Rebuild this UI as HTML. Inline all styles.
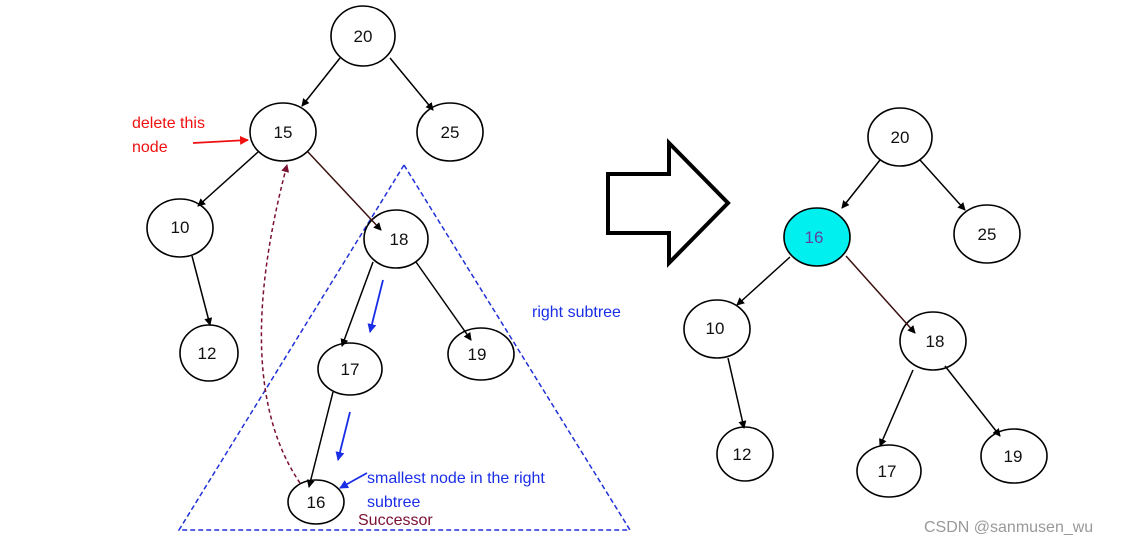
<!DOCTYPE html>
<html><head><meta charset="utf-8"><style>
html,body{margin:0;padding:0;background:#fff;}
svg{display:block;font-family:"Liberation Sans",sans-serif;}
</style></head><body>
<svg width="1134" height="544" viewBox="0 0 1134 544" xmlns="http://www.w3.org/2000/svg">
<defs>
<marker id="a" markerWidth="8" markerHeight="8" refX="7" refY="4" orient="auto" markerUnits="userSpaceOnUse"><path d="M0,0 L8,4 L0,8 z" fill="#000"/></marker>
<marker id="b" markerWidth="9" markerHeight="9" refX="8" refY="4.5" orient="auto" markerUnits="userSpaceOnUse"><path d="M0,0 L9,4.5 L0,9 z" fill="#1a2ee8"/></marker>
<marker id="r" markerWidth="9" markerHeight="9" refX="8" refY="4.5" orient="auto" markerUnits="userSpaceOnUse"><path d="M0,0 L9,4.5 L0,9 z" fill="#f01010"/></marker>
<marker id="m" markerWidth="8" markerHeight="8" refX="7" refY="4" orient="auto" markerUnits="userSpaceOnUse"><path d="M0,0 L8,4 L0,8 z" fill="#7a1030"/></marker>
</defs>
<rect width="1134" height="544" fill="#fff"/>
<polygon points="404,165 179,530 630,530" fill="none" stroke="#2030d8" stroke-width="1.5" stroke-dasharray="5,3"/>
<!-- left nodes -->
<g fill="#fff" stroke="#000" stroke-width="1.6">
<ellipse cx="363" cy="36" rx="32" ry="30"/>
<ellipse cx="283" cy="132" rx="33" ry="29"/>
<ellipse cx="450" cy="132" rx="33" ry="29"/>
<ellipse cx="180" cy="228" rx="33" ry="29"/>
<ellipse cx="396" cy="239" rx="32" ry="29"/>
<ellipse cx="209" cy="353" rx="29" ry="28"/>
<ellipse cx="350" cy="369" rx="32" ry="26"/>
<ellipse cx="481" cy="354" rx="33" ry="26"/>
<ellipse cx="316" cy="502" rx="28" ry="22"/>
</g>
<g stroke="#000" stroke-width="1.5" fill="none" marker-end="url(#a)">
<line x1="340" y1="58" x2="302" y2="106"/>
<line x1="390" y1="58" x2="433" y2="110"/>
<line x1="258" y1="152" x2="198" y2="206"/>
<line x1="308" y1="152" x2="381" y2="230" stroke="#3a1010"/>
<line x1="192" y1="256" x2="210" y2="325"/>
<line x1="373" y1="262" x2="342" y2="346"/>
<line x1="416" y1="262" x2="471" y2="340"/>
<line x1="333" y1="392" x2="309" y2="487"/>
</g>
<path d="M300,483 Q230,380 287,165" stroke="#7a1030" stroke-width="1.5" fill="none" stroke-dasharray="4,3" marker-end="url(#m)"/>
<g stroke="#1a2ee8" stroke-width="1.8" fill="none" marker-end="url(#b)">
<line x1="383" y1="280" x2="370" y2="332"/>
<line x1="350" y1="412" x2="338" y2="460"/>
<line x1="367" y1="473" x2="340" y2="488"/>
</g>
<line x1="193" y1="143" x2="248" y2="140" stroke="#f01010" stroke-width="1.8" marker-end="url(#r)"/>
<g font-size="17" fill="#111" text-anchor="middle">
<text x="363" y="42">20</text><text x="283" y="138">15</text><text x="450" y="138">25</text>
<text x="180" y="233">10</text><text x="399" y="245">18</text><text x="207" y="359">12</text>
<text x="350" y="375">17</text><text x="477" y="360">19</text><text x="316" y="508">16</text>
</g>
<g font-size="16">
<text x="132" y="128" fill="#f01010">delete this</text>
<text x="132" y="152" fill="#f01010">node</text>
<text x="532" y="317" fill="#1a2ee8">right subtree</text>
<text x="367" y="483" fill="#1a2ee8">smallest node in the right</text>
<text x="367" y="507" fill="#1a2ee8">subtree</text>
<text x="358" y="525" fill="#7a1030">Successor</text>
</g>
<polygon points="608,174 669,174 669,143 728,203 669,263 669,233 608,233" fill="#fff" stroke="#000" stroke-width="4" stroke-linejoin="miter"/>
<!-- right nodes -->
<g fill="#fff" stroke="#000" stroke-width="1.6">
<ellipse cx="900" cy="137" rx="32" ry="29"/>
<ellipse cx="817" cy="237" rx="33" ry="29" fill="#00f0f0"/>
<ellipse cx="987" cy="234" rx="33" ry="29"/>
<ellipse cx="717" cy="329" rx="33" ry="29"/>
<ellipse cx="933" cy="341" rx="33" ry="29"/>
<ellipse cx="745" cy="454" rx="28" ry="27"/>
<ellipse cx="889" cy="471" rx="32" ry="26"/>
<ellipse cx="1014" cy="456" rx="33" ry="27"/>
</g>
<g stroke="#000" stroke-width="1.5" fill="none" marker-end="url(#a)">
<line x1="880" y1="160" x2="842" y2="208"/>
<line x1="920" y1="160" x2="965" y2="210"/>
<line x1="790" y1="257" x2="737" y2="305"/>
<line x1="846" y1="256" x2="915" y2="333" stroke="#3a1010"/>
<line x1="728" y1="358" x2="744" y2="428"/>
<line x1="913" y1="370" x2="880" y2="446"/>
<line x1="945" y1="366" x2="1000" y2="436"/>
</g>
<g font-size="17" fill="#111" text-anchor="middle">
<text x="900" y="143">20</text><text x="814" y="243" fill="#6040a0">16</text><text x="987" y="240">25</text>
<text x="715" y="334">10</text><text x="935" y="347">18</text><text x="742" y="460">12</text>
<text x="887" y="477">17</text><text x="1013" y="462">19</text>
</g>
<text x="924" y="532" font-size="16" fill="#999">CSDN @sanmusen_wu</text>
</svg>
</body></html>
